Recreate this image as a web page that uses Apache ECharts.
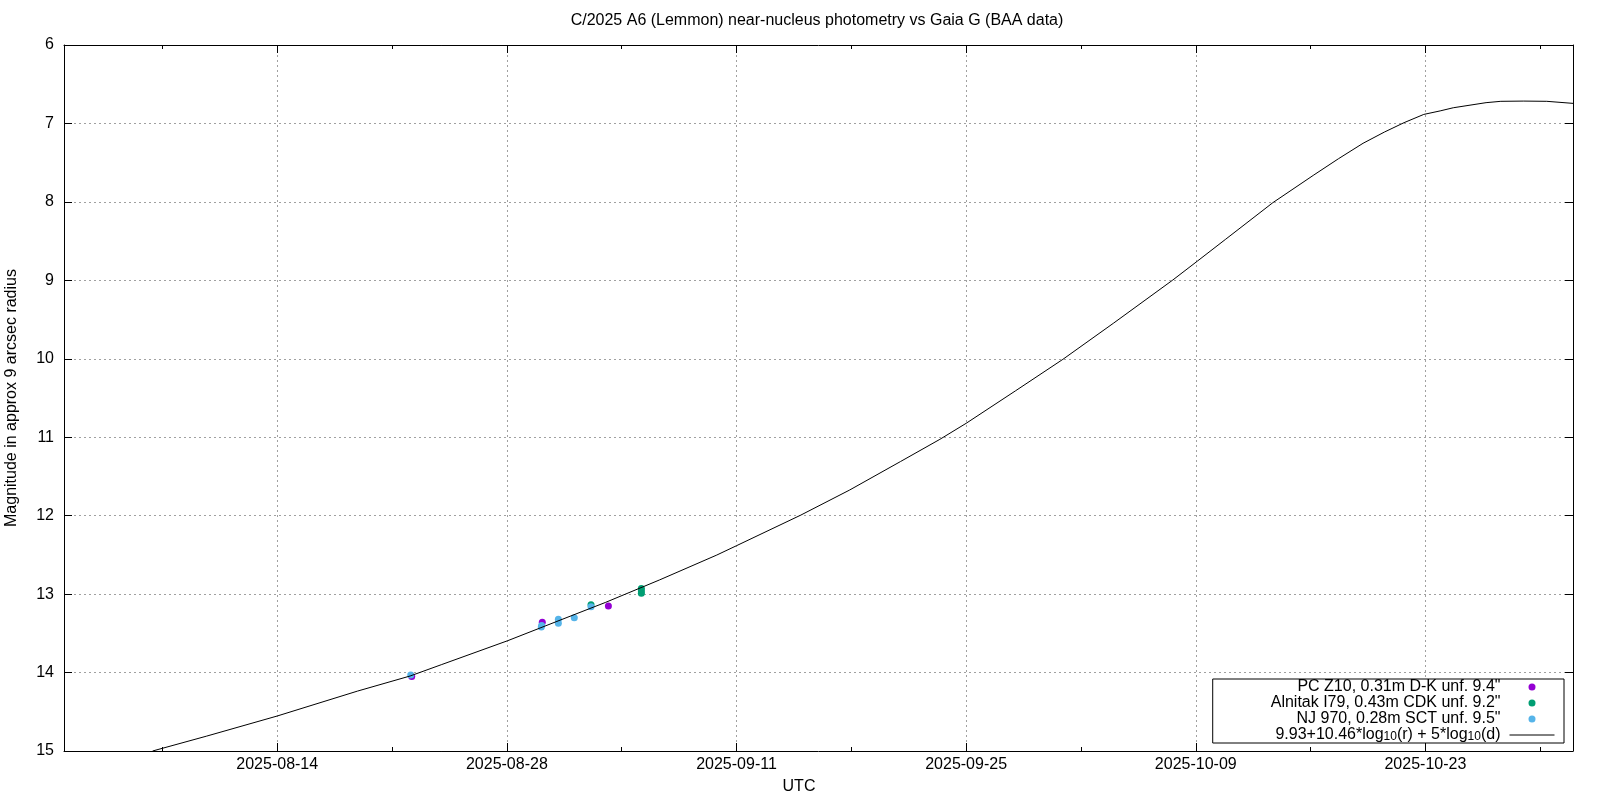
<!DOCTYPE html>
<html>
<head>
<meta charset="utf-8">
<script src="https://cdn.jsdelivr.net/npm/echarts@6/dist/echarts.min.js"></script>
<style>html,body{margin:0;padding:0;background:#fff}#c{width:1600px;height:800px}</style>
</head>
<body>
<div id="c"></div>
<script>
// x values are days since 2025-07-31 00:00 UTC
const xRange = [1, 93];
const yRange = [6, 15];
const xMajorDays = [14, 28, 42, 56, 70, 84];
const xMajorLabels = ['2025-08-14', '2025-08-28', '2025-09-11', '2025-09-25', '2025-10-09', '2025-10-23'];
const xMinorDays = [7, 21, 35, 49, 63, 77, 91];

const titleText = 'C/2025 A6 (Lemmon) near-nucleus photometry vs Gaia G (BAA data)';
const xName = 'UTC';
const yName = 'Magnitude in approx 9 arcsec radius';

const seriesNames = ['PC Z10, 0.31m D-K unf. 9.4"', 'Alnitak I79, 0.43m CDK unf. 9.2"', 'NJ 970, 0.28m SCT unf. 9.5"', '9.93+10.46*log10(r) + 5*log10(d)'];
const seriesLegendRich = ['PC Z10, 0.31m D-K unf. 9.4"', 'Alnitak I79, 0.43m CDK unf. 9.2"', 'NJ 970, 0.28m SCT unf. 9.5"', '9.93+10.46*log{sub|10}(r) + 5*log{sub|10}(d)'];
const seriesColors = ['#9400d3', '#009e73', '#56b4e9', '#000000'];

const pcDays = [22.2, 30.16, 34.19];
const pcMags = [14.05, 13.36, 13.15];
const alnDays = [33.13, 36.2, 36.2, 36.2];
const alnMags = [13.135, 12.93, 12.96, 12.99];
const njDays = [22.14, 30.12, 30.1, 31.14, 31.14, 32.11, 33.13];
const njMags = [14.03, 13.40, 13.42, 13.32, 13.37, 13.30, 13.16];

const fitDays = [6.4, 9.7, 14, 18.9, 22.1, 24, 28.05, 31, 34, 37.3, 40.8, 42, 45.9, 48.9, 52, 54.4, 56, 59, 61.9, 65, 68.6, 70.1, 71.8, 74.7, 77.2, 78.7, 80.2, 81.5, 82.7, 83.9, 84.9, 85.7, 87.7, 88.6, 90, 91.4, 93];
const fitMags = [15.0, 14.81, 14.554, 14.236, 14.044, 13.90, 13.594, 13.352, 13.107, 12.82, 12.502, 12.383, 11.995, 11.673, 11.31, 11.027, 10.823, 10.41, 10.007, 9.544, 8.996, 8.755, 8.48, 8.01, 7.657, 7.45, 7.253, 7.11, 6.99, 6.885, 6.84, 6.80, 6.735, 6.718, 6.715, 6.718, 6.744];

function zip(a, b) { return a.map((v, i) => [v, b[i]]); }

const FONT = '"Liberation Sans", Arial, Helvetica, sans-serif';
const gridRect = { left: 64, top: 45, right: 27, bottom: 49 };
const axisBlack = { color: '#000', width: 1 };
const gridLine = { color: '#a0a0a0', width: 1, type: [2, 3] };

const chart = echarts.init(document.getElementById('c'), null, { renderer: 'canvas' });

const option = {
  animation: false,
  backgroundColor: '#fff',
  textStyle: { fontFamily: FONT },
  title: {
    text: titleText, left: 817, top: 13, padding: 0, textAlign: 'center',
    textStyle: { fontSize: 16, fontWeight: 'normal', color: '#000', fontFamily: FONT }
  },
  grid: [
    Object.assign({ outerBoundsMode: 'none', containLabel: false }, gridRect),
    Object.assign({ outerBoundsMode: 'none', containLabel: false }, gridRect)
  ],
  legend: {
    orient: 'vertical', align: 'right', right: 36, bottom: 57,
    itemWidth: 45, itemHeight: 7, itemGap: 0,
    padding: [0, 9, 0, 58],
    backgroundColor: '#fff', borderColor: '#000', borderWidth: 1,
    textStyle: {
      fontSize: 16, lineHeight: 15, color: '#000', fontFamily: FONT, padding: [0, 4, 0, 0],
      rich: { sub: { fontSize: 12, lineHeight: 3, verticalAlign: 'bottom', color: '#000', fontFamily: FONT } }
    },
    formatter: name => seriesLegendRich[seriesNames.indexOf(name)],
    data: [
      { name: seriesNames[0], itemStyle: { opacity: 1 } },
      { name: seriesNames[1], itemStyle: { opacity: 1 } },
      { name: seriesNames[2], itemStyle: { opacity: 1 } },
      { name: seriesNames[3], itemStyle: { opacity: 0 }, lineStyle: { width: 1, color: '#000' } }
    ]
  },
  xAxis: [
    {
      gridIndex: 0, type: 'value', position: 'bottom', min: xRange[0], max: xRange[1],
      axisLine: { show: true, onZero: false, lineStyle: axisBlack },
      axisTick: { show: true, inside: true, length: 8, customValues: xMajorDays, lineStyle: axisBlack },
      axisLabel: { show: true, customValues: xMajorDays, formatter: v => xMajorLabels[xMajorDays.indexOf(v)], fontSize: 16, color: '#000', margin: 6, fontFamily: FONT },
      splitLine: { show: true, lineStyle: gridLine }
    },
    {
      gridIndex: 0, type: 'value', position: 'top', min: xRange[0], max: xRange[1],
      axisLine: { show: true, onZero: false, lineStyle: axisBlack },
      axisTick: { show: true, inside: true, length: 8, customValues: xMajorDays, lineStyle: axisBlack },
      axisLabel: { show: false }, splitLine: { show: false }
    },
    {
      gridIndex: 1, type: 'value', position: 'bottom', min: xRange[0], max: xRange[1],
      axisLine: { show: false, onZero: false },
      axisTick: { show: true, inside: true, length: 4, customValues: xMinorDays, lineStyle: axisBlack },
      axisLabel: { show: false }, splitLine: { show: false }
    },
    {
      gridIndex: 1, type: 'value', position: 'top', min: xRange[0], max: xRange[1],
      axisLine: { show: false, onZero: false },
      axisTick: { show: true, inside: true, length: 4, customValues: xMinorDays, lineStyle: axisBlack },
      axisLabel: { show: false }, splitLine: { show: false }
    }
  ],
  yAxis: [
    {
      gridIndex: 0, type: 'value', position: 'left', inverse: true, min: yRange[0], max: yRange[1], interval: 1,
      axisLine: { show: true, onZero: false, lineStyle: axisBlack },
      axisTick: { show: true, inside: true, length: 8, lineStyle: axisBlack },
      axisLabel: { show: true, fontSize: 16, color: '#000', margin: 10, fontFamily: FONT },
      splitLine: { show: true, lineStyle: gridLine }
    },
    {
      gridIndex: 0, type: 'value', position: 'right', inverse: true, min: yRange[0], max: yRange[1], interval: 1,
      axisLine: { show: true, onZero: false, lineStyle: axisBlack },
      axisTick: { show: true, inside: true, length: 8, lineStyle: axisBlack },
      axisLabel: { show: false }, splitLine: { show: false }
    },
    { gridIndex: 1, type: 'value', show: false, inverse: true, min: yRange[0], max: yRange[1] }
  ],
  graphic: [
    {
      type: 'text', x: 12, y: 398, rotation: Math.PI / 2,
      style: { text: yName, fill: '#000', fontSize: 16, fontFamily: FONT, align: 'center', verticalAlign: 'middle', textAlign: 'center', textVerticalAlign: 'middle' }
    },
    {
      type: 'text', x: 799, y: 787,
      style: { text: xName, fill: '#000', fontSize: 16, fontFamily: FONT, align: 'center', verticalAlign: 'middle', textAlign: 'center', textVerticalAlign: 'middle' }
    }
  ],
  series: [
    { type: 'scatter', name: seriesNames[0], xAxisIndex: 0, yAxisIndex: 0, data: zip(pcDays, pcMags), symbol: 'circle', symbolSize: 7, itemStyle: { color: seriesColors[0], opacity: 1 } },
    { type: 'scatter', name: seriesNames[1], xAxisIndex: 0, yAxisIndex: 0, data: zip(alnDays, alnMags), symbol: 'circle', symbolSize: 7, itemStyle: { color: seriesColors[1], opacity: 1 } },
    { type: 'scatter', name: seriesNames[2], xAxisIndex: 0, yAxisIndex: 0, data: zip(njDays, njMags), symbol: 'circle', symbolSize: 7, itemStyle: { color: seriesColors[2], opacity: 1 } },
    { type: 'line', name: seriesNames[3], xAxisIndex: 0, yAxisIndex: 0, data: zip(fitDays, fitMags), symbol: 'none', showSymbol: false, smooth: false, clip: true,
      lineStyle: { color: seriesColors[3], width: 1 }, itemStyle: { color: seriesColors[3] } }
  ]
};
chart.setOption(option);
</script>
</body>
</html>
